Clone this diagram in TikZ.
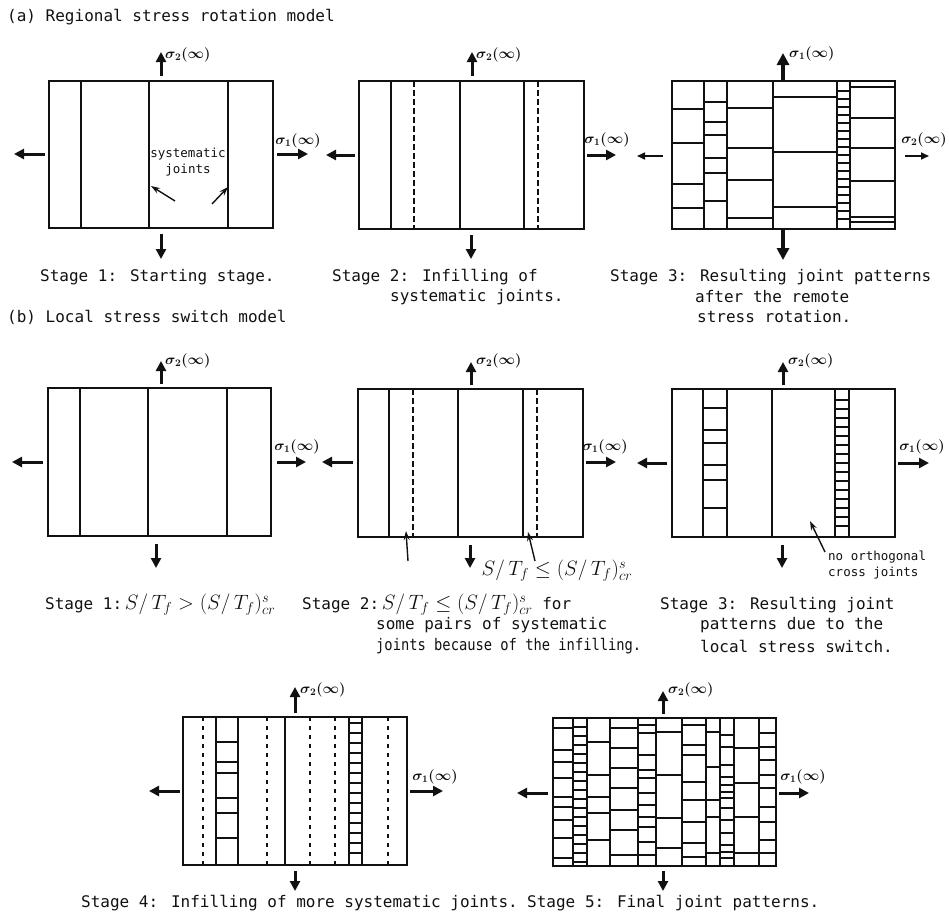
\documentclass[tikz,border=0pt]{standalone}
\usepackage{fontspec}
\usepackage{tikz}
\usetikzlibrary{arrows.meta}
\newfontfamily\plainmono{DejaVu Sans Mono}
\definecolor{ink}{HTML}{111111}
\tikzset{
  frame/.style={draw=ink, line width=2.1pt},
  joint/.style={draw=ink, line width=1.9pt},
  infill/.style={joint, dash pattern=on 6pt off 3pt},
  lateinfill/.style={draw=ink, line width=1.7pt, dash pattern=on 4pt off 5pt},
  cross/.style={draw=ink, line width=1.4pt},
  load/.style={-{Triangle[length=10pt,width=10pt]}, draw=ink, line width=3pt},
  heavyload/.style={-{Triangle[length=12pt,width=12pt]}, draw=ink, line width=3.6pt},
  lightload/.style={-{Triangle[length=8pt,width=7pt]}, draw=ink, line width=1.6pt},
  pointer/.style={-{Stealth[length=9pt,width=6pt]}, draw=ink, line width=1.4pt},
  stress/.style={font=\fontsize{14}{14}\selectfont\boldmath, inner sep=0pt, text=ink},
  caption/.style={font=\plainmono\fontsize{16}{16}\selectfont, anchor=west, inner sep=0pt, text=ink},
  note/.style={font=\plainmono\fontsize{12.5}{16}\selectfont, inner sep=0pt, text=ink, align=center},
  ratio/.style={font=\fontsize{19}{19}\selectfont, inner sep=0pt, text=ink}
}
\newcommand{\ratiolt}{{\fontsize{20}{20}\selectfont$S/\,T_f > (S/\,T_f)^{s}_{cr}$}}
\newcommand{\ratiole}{{\fontsize{20}{20}\selectfont$S/\,T_f \leq (S/\,T_f)^{s}_{cr}$}}
\newcommand{\crossrow}[3]{\foreach \yy in {#3} \draw[cross] (#1,\yy) -- (#2,\yy);}

\begin{document}
\begin{tikzpicture}[x=1pt,y=-1pt]
  \useasboundingbox (0,0) rectangle (949,918);

  \node[caption] (heada) at (7,17) {(a) Regional stress rotation model};
  \node[caption] (headb) at (7,317) {(b) Local stress switch model};

  % (a) stage 1
  \draw[frame] (49,81) rectangle (273,228);
  \foreach \xx in {81,149,228} \draw[joint] (\xx,81) -- (\xx,228);
  \draw[load] (161,76) -- (161,52);
  \draw[load] (161,234) -- (161,259);
  \draw[load] (45,154) -- (14,154);
  \draw[load] (277,154) -- (308,154);
  \node[stress, anchor=west] (sa1top) at (165,55) {$\sigma_2(\infty)$};
  \node[stress] (sa1right) at (298,141) {$\sigma_1(\infty)$};
  \node[note] (sysjoints) at (188,162) {systematic\\joints};
  \draw[pointer] (175,201) -- (151,186);
  \draw[pointer] (212,204) -- (228,187);
  \node[caption] (capa1) at (40,277) {Stage 1: Starting stage.};

  % (a) stage 2
  \draw[frame] (359,81) rectangle (584,229);
  \foreach \xx in {391,460,524} \draw[joint] (\xx,81) -- (\xx,229);
  \foreach \xx in {414,538} \draw[infill] (\xx,81) -- (\xx,229);
  \draw[load] (472,76) -- (472,52);
  \draw[load] (471,235) -- (471,259);
  \draw[load] (355,155) -- (326,155);
  \draw[load] (587,155) -- (616,155);
  \node[stress, anchor=west] (sa2top) at (476,55) {$\sigma_2(\infty)$};
  \node[stress] (sa2right) at (607,140) {$\sigma_1(\infty)$};
  \node[caption] (capa2) at (332,277) {Stage 2: Infilling of};
  \node[caption] (capa2b) at (390,297) {systematic joints.};

  % (a) stage 3
  \draw[frame] (672,81) rectangle (895,229);
  \foreach \xx in {704,727,773,837,850} \draw[joint] (\xx,81) -- (\xx,229);
  \crossrow{672}{704}{109,143,184,208}
  \crossrow{704}{727}{102,122,135,158,173,201}
  \crossrow{727}{773}{108,148,180,218}
  \crossrow{773}{837}{97,152,207}
  \crossrow{837}{850}{91,99,...,223}
  \crossrow{850}{895}{87,118,148,181,217,222}
  \draw[heavyload] (783,81) -- (783,53);
  \draw[heavyload] (783,229) -- (783,260);
  \draw[lightload] (663,156) -- (637,156);
  \draw[lightload] (905,156) -- (929,156);
  \node[stress, anchor=west] (sa3top) at (789,54) {$\sigma_1(\infty)$};
  \node[stress] (sa3right) at (924,140) {$\sigma_2(\infty)$};
  \node[caption] (capa3) at (610,277) {Stage 3: Resulting joint patterns};
  \node[caption] (capa3b) at (695,297) {after the remote};
  \node[caption] (capa3c) at (697,317) {stress rotation.};

  % (b) stage 1
  \draw[frame] (48,388) rectangle (271,536);
  \foreach \xx in {80,148,227} \draw[joint] (\xx,388) -- (\xx,536);
  \draw[load] (161,384) -- (161,361);
  \draw[load] (156,544) -- (156,568);
  \draw[load] (43,462) -- (12,462);
  \draw[load] (277,462) -- (306,462);
  \node[stress, anchor=west] (sb1top) at (165,361) {$\sigma_2(\infty)$};
  \node[stress] (sb1right) at (297,447) {$\sigma_1(\infty)$};
  \node[caption] (capb1) at (45,605) {Stage 1:\,\ratiolt};

  % (b) stage 2
  \draw[frame] (358,389) rectangle (583,537);
  \foreach \xx in {389,458,523} \draw[joint] (\xx,389) -- (\xx,537);
  \foreach \xx in {413,537} \draw[infill] (\xx,389) -- (\xx,537);
  \draw[load] (471,385) -- (471,362);
  \draw[load] (470,545) -- (470,568);
  \draw[load] (353,462) -- (322,462);
  \draw[load] (586,462) -- (616,462);
  \node[stress, anchor=west] (sb2top) at (476,361) {$\sigma_2(\infty)$};
  \node[stress] (sb2right) at (605,447) {$\sigma_1(\infty)$};
  \draw[pointer] (408,561) -- (406,531);
  \draw[pointer] (535,561) -- (528,532);
  \node[ratio] (critlabel) at (557,571) {\ratiole};
  \node[caption] (capb2) at (302,605) {Stage 2:\,\ratiole{} for};
  \node[caption] (capb2b) at (376,625) {some pairs of systematic};
  \node[caption] (capb2c) at (376,646) {\scalebox{0.86}[1]{joints because of the infilling.}};

  % (b) stage 3
  \draw[frame] (672,389) rectangle (895,537);
  \foreach \xx in {703,727,772,835,849} \draw[joint] (\xx,389) -- (\xx,537);
  \crossrow{703}{727}{408,430,443,465,480,508}
  \crossrow{835}{849}{400,409,...,531}
  \draw[load] (783,385) -- (783,362);
  \draw[load] (782,545) -- (782,568);
  \draw[load] (667,463) -- (637,463);
  \draw[load] (898,463) -- (929,463);
  \node[stress, anchor=west] (sb3top) at (788,361) {$\sigma_2(\infty)$};
  \node[stress] (sb3right) at (922,447) {$\sigma_1(\infty)$};
  \draw[pointer] (825,552) -- (810,521);
  \node[note, anchor=west, align=left] (nocross) at (828,565) {no orthogonal\\cross joints};
  \node[caption] (capb3) at (660,605) {Stage 3: Resulting joint};
  \node[caption] (capb3b) at (700,625) {patterns due to the};
  \node[caption] (capb3c) at (700,646) {local stress switch.};

  % stage 4
  \draw[frame] (183,717) rectangle (407,865);
  \foreach \xx in {216,238,285,349,362} \draw[joint] (\xx,717) -- (\xx,865);
  \foreach \xx in {203,267,310,335,388} \draw[lateinfill] (\xx,717) -- (\xx,865);
  \crossrow{216}{238}{742,762,773,798,813,838}
  \crossrow{349}{362}{723,733,...,853}
  \draw[load] (295,713) -- (295,687);
  \draw[load] (295,871) -- (295,891);
  \draw[load] (180,791) -- (149,791);
  \draw[load] (410,791) -- (443,791);
  \node[stress, anchor=west] (sc4top) at (300,690) {$\sigma_2(\infty)$};
  \node[stress] (sc4right) at (435,777) {$\sigma_1(\infty)$};
  \node[caption] (capc4) at (81,903) {Stage 4: Infilling of more systematic joints.};

  % stage 5
  \draw[frame] (553,718) rectangle (776,866);
  \foreach \xx in {573,587,610,638,656,682,706,720,734,759} \draw[joint] (\xx,718) -- (\xx,866);
  \crossrow{553}{573}{728,750,762,778,797,807,820,838,858}
  \crossrow{573}{587}{727,736,...,862}
  \crossrow{587}{610}{742,775,797,813,840}
  \crossrow{610}{638}{728,748,768,788,810,830,855}
  \crossrow{638}{656}{725,733,755,770,778,793,805,817,827,842,855}
  \crossrow{656}{682}{732,775,818,848}
  \crossrow{682}{706}{725,745,755,782,800,822,843,857}
  \crossrow{706}{720}{732,767,800,817,853}
  \crossrow{720}{734}{735,747,765,777,785,792,798,808,820,833,845,852,858}
  \crossrow{734}{759}{748,783,817,853}
  \crossrow{759}{776}{733,747,760,775,788,807,822,840,853}
  \draw[load] (663,714) -- (663,691);
  \draw[load] (663,871) -- (663,891);
  \draw[load] (548,793) -- (517,793);
  \draw[load] (779,793) -- (809,793);
  \node[stress, anchor=west] (sc5top) at (668,690) {$\sigma_2(\infty)$};
  \node[stress] (sc5right) at (803,777) {$\sigma_1(\infty)$};
  \node[caption] (capc5) at (527,903) {Stage 5: Final joint patterns.};
\end{tikzpicture}
\end{document}
